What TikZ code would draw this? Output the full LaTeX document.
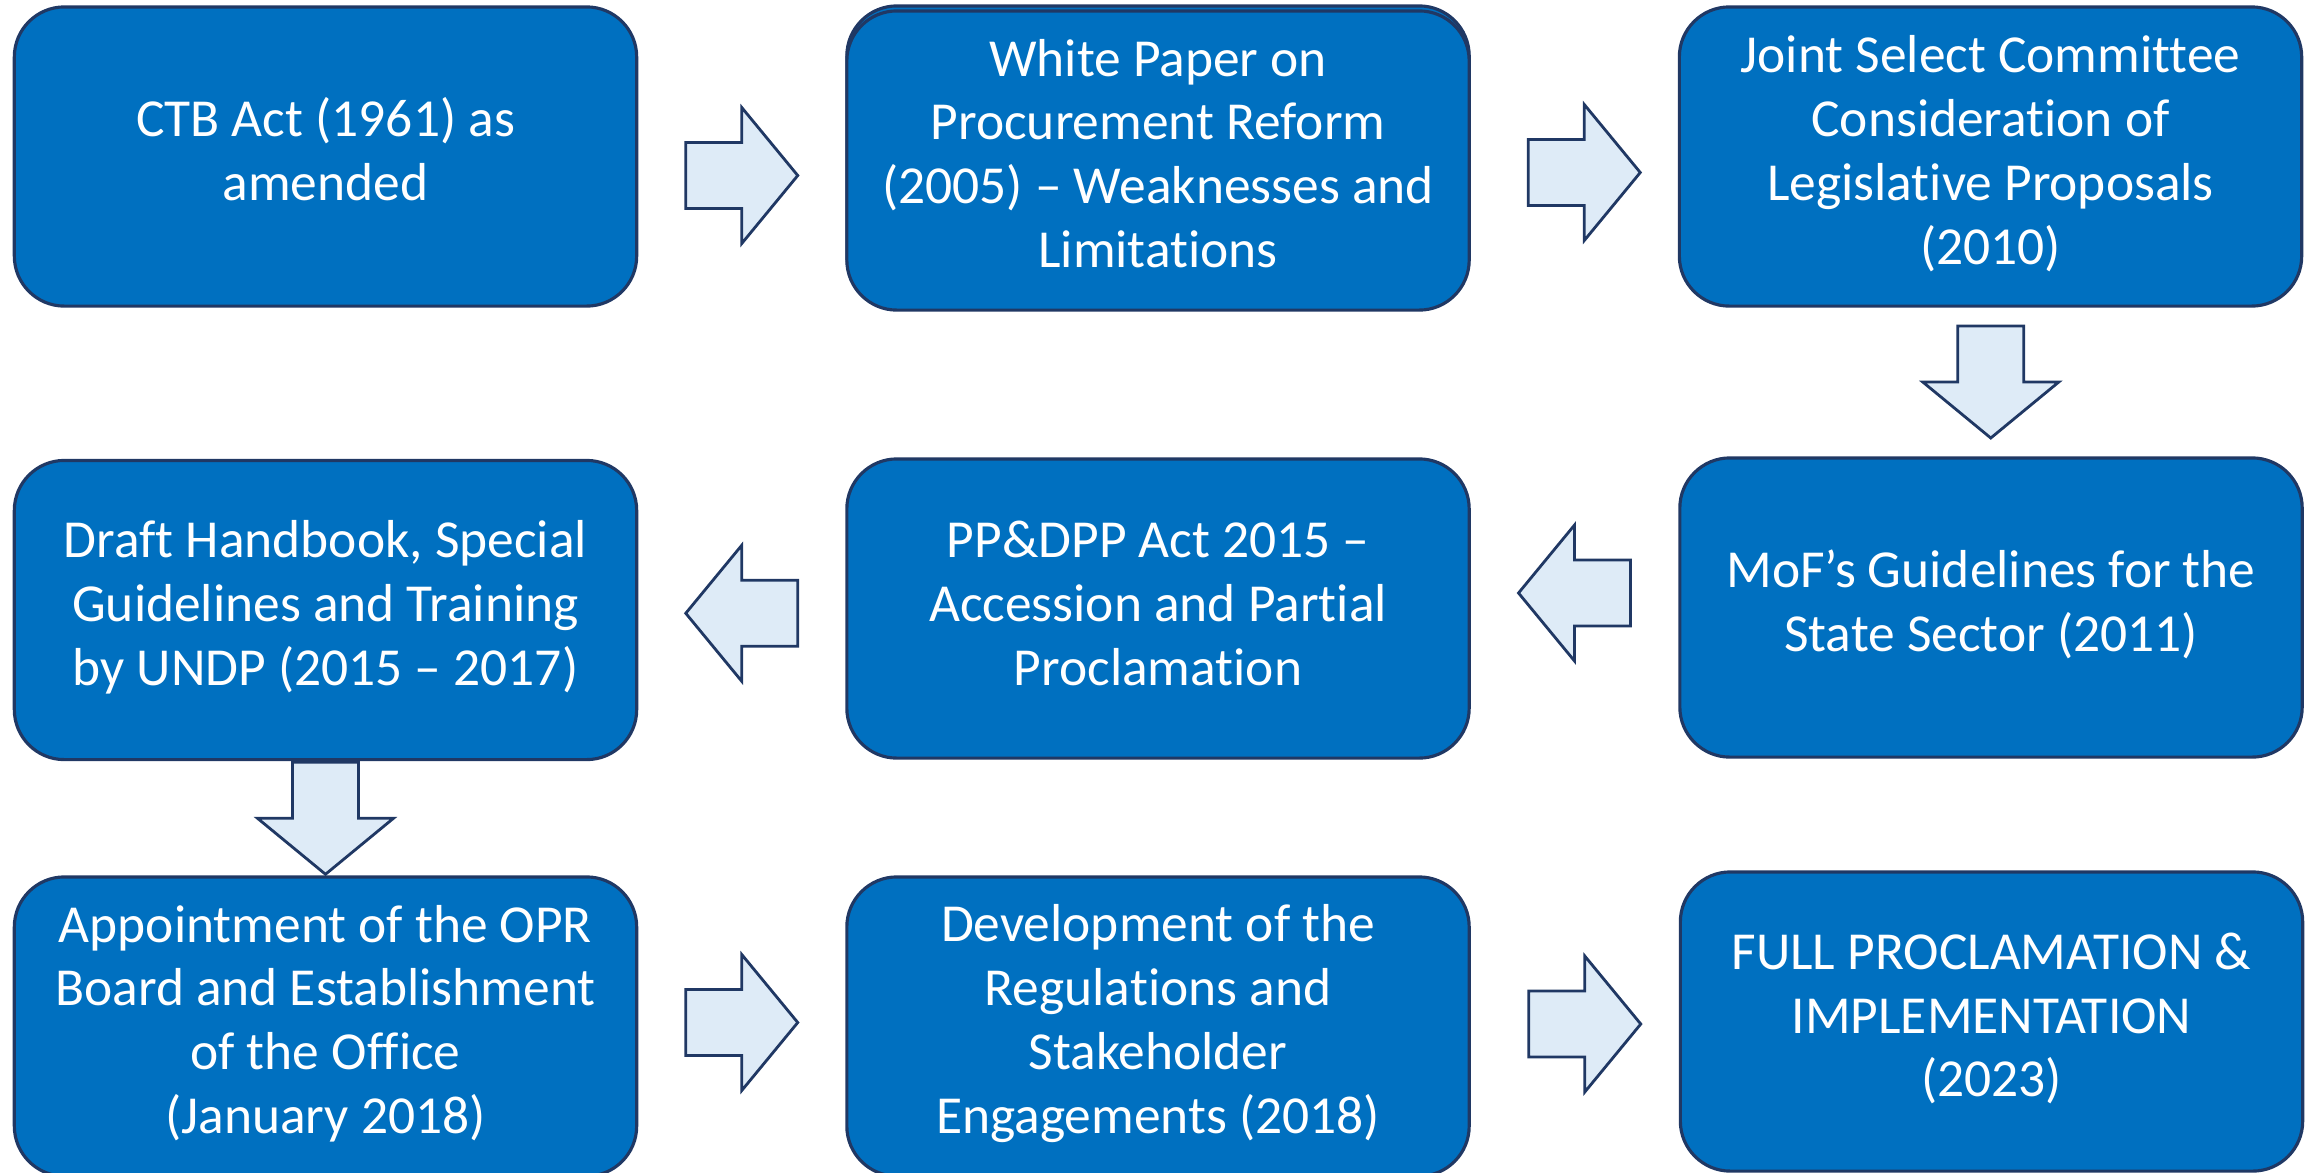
\documentclass[tikz,border=0pt]{standalone}
\usepackage{fontspec}
\setmainfont{Carlito}[Ligatures=NoCommon]
\usetikzlibrary{calc, backgrounds}
\definecolor{boxblue}{RGB}{0,112,192}
\definecolor{navyline}{RGB}{32,56,100}
\definecolor{paleblue}{RGB}{222,235,247}

\tikzset{
  stage/.style={draw=navyline, line width=0.9pt, fill=boxblue, rounded corners=0.5cm,
    minimum width=6.22cm, minimum height=2.99cm, inner sep=0pt, outer sep=0pt},
  caption/.style={text=white, align=center, yshift=0.03cm,
    font=\fontsize{15.2}{18.15}\selectfont},
  flowarrow/.style={draw=navyline, line width=0.8pt, fill=paleblue, line join=miter},
  blockarr/.pic={
    \draw[flowarrow] (-56,-33) -- (0,-33) -- (0,-68) -- (56,0) -- (0,68) -- (0,33) -- (-56,33) -- cycle;
  }
}

\begin{document}
\begin{tikzpicture}[x=0.01cm, y=-0.01cm]
  \useasboundingbox (0,0) rectangle (2310,1172);

  % row 1
  \node[stage, label={[caption, yshift=0.04cm]center:{CTB Act (1961) as\\amended}}] (b1) at (325.5,156.5) {};
  \node[stage, label={[caption, yshift=0.04cm]center:{White Paper on\\Procurement Reform\\(2005) – Weaknesses and\\Limitations}}] (b2) at (1158,160.5) {};
  \node[stage, label={[caption]center:{Joint Select Committee\\Consideration of\\Legislative Proposals\\(2010)}}] (b3) at (1990.5,156.5) {};
  % row 2
  \node[stage, label={[caption]center:{Draft Handbook, Special\\Guidelines and Training\\by UNDP (2015 – 2017)}}] (b4) at (325.5,610) {};
  \node[stage, label={[caption, yshift=0.02cm]center:{PP\&DPP Act 2015 –\\Accession and Partial\\Proclamation}}] (b5) at (1158,608.5) {};
  \node[stage, label={[caption]center:{MoF’s Guidelines for the\\State Sector (2011)}}] (b6) at (1991,607.5) {};
  % row 3
  \node[stage, label={[caption]center:{Appointment of the OPR\\Board and Establishment\\of the Office\\(January 2018)}}] (b7) at (325.5,1026.5) {};
  \node[stage, label={[caption]center:{Development of the\\Regulations and\\Stakeholder\\Engagements (2018)}}] (b8) at (1158,1026.5) {};
  \node[stage, label={[caption]center:{FULL PROCLAMATION \&\\IMPLEMENTATION\\(2023)}}] (b9) at (1991.5,1021.5) {};

  % doubled outline behind the white paper box
  \begin{scope}[on background layer]
    \draw[draw=navyline, line width=0.9pt, fill=boxblue, rounded corners=0.5cm]
      ($(b2.south west)+(0,-5)$) rectangle ($(b2.north east)+(0,-5)$);
  \end{scope}

  % block arrows between the stages
  \coordinate (a12) at ($(b1.east)!0.5!(b2.west)+(0,17)$);
  \coordinate (a23) at ($(b2.east)!0.5!(b3.west)+(10,14)$);
  \coordinate (a36) at ($(b3.south)!0.5!(b6.north)$);
  \coordinate (a65) at ($(b5.east)!0.5!(b6.west)+(0,-15)$);
  \coordinate (a54) at ($(b4.east)!0.5!(b5.west)+(0,4)$);
  \coordinate (a47) at ($(b4.south)!0.5!(b7.north)$);
  \coordinate (a78) at ($(b7.east)!0.5!(b8.west)+(0,-4)$);
  \coordinate (a89) at ($(b8.east)!0.5!(b9.west)+(10,0)$);
  \foreach \p/\r in {a12/0, a23/0, a36/-90, a65/180, a54/180, a47/-90, a78/0, a89/0}
    \pic[rotate=\r] at (\p) {blockarr};
\end{tikzpicture}
\end{document}
